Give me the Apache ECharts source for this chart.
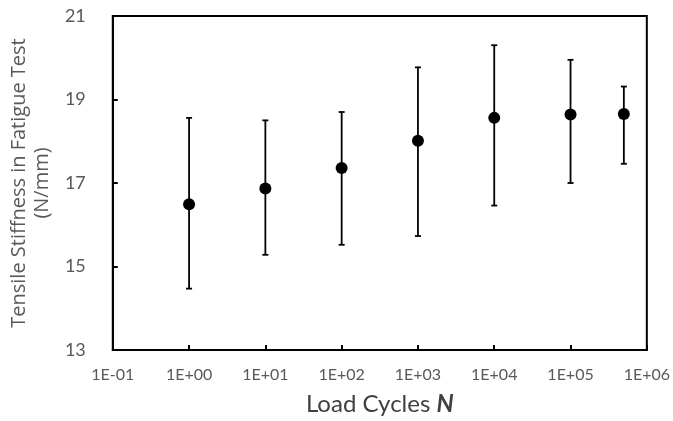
<!DOCTYPE html>
<html><head><meta charset="utf-8">
<script src="https://cdn.jsdelivr.net/npm/echarts@6/dist/echarts.min.js"></script>
<style>html,body{margin:0;padding:0;background:#fff}#c{width:673px;height:421px}</style>
</head><body><div id="c"></div>
<script>
const loadCycles = [1, 10, 100, 1000, 10000, 100000, 500000];
const stiffness = [16.49, 16.87, 17.36, 18.01, 18.56, 18.64, 18.65];
const errLow = [14.47, 15.28, 15.52, 15.73, 16.46, 17.00, 17.46];
const errHigh = [18.56, 18.50, 18.70, 19.77, 20.30, 19.95, 19.31];
const yTicks = [13, 15, 17, 19, 21];

const font = 'Lato, "Open Sans", sans-serif';
const font2 = '"Open Sans", Lato, sans-serif';
const chart = echarts.init(document.getElementById('c'));
function fmtExp(v){
  const e = Math.round(Math.log10(v));
  const s = e < 0 ? '-' : '+';
  const a = Math.abs(e);
  return '1E' + s + (a < 10 ? '0' + a : a);
}
chart.setOption({
  animation: false,
  grid: {left: 111, right: 24, top: 16, bottom: 67, show: true, borderColor: '#000', borderWidth: 2, backgroundColor: 'transparent'},
  xAxis: {
    type: 'log', logBase: 10, min: 0.1, max: 1000000,
    name: 'Load Cycles {b|N}', nameLocation: 'middle', nameGap: 42,
    nameTextStyle: {fontFamily: font, fontSize: 24, color: '#404040', rich: {b: {fontFamily: font, fontSize: 24, fontWeight: 'bold', fontStyle: 'italic', color: '#404040'}}},
    axisLine: {show: true, lineStyle: {color: '#000', width: 2}},
    axisTick: {show: true, inside: true, length: 5, lineStyle: {color: '#000', width: 2}},
    axisLabel: {fontFamily: font, fontSize: 16, color: '#595959', margin: 17, formatter: fmtExp, showMinLabel: true, showMaxLabel: true},
    splitLine: {show: false}, minorTick: {show: false}
  },
  yAxis: {
    type: 'value', min: yTicks[0], max: yTicks[yTicks.length-1], interval: 2,
    name: 'Tensile Stiffness in Fatigue Test\n(N/mm)', nameLocation: 'middle', nameGap: 57, nameRotate: 90,
    nameTextStyle: {fontFamily: font2, fontSize: 20, color: '#595959', lineHeight: 23},
    axisLine: {show: true, lineStyle: {color: '#000', width: 2}},
    axisTick: {show: true, inside: true, length: 5, lineStyle: {color: '#000', width: 2}},
    axisLabel: {fontFamily: font, fontSize: 18, color: '#595959', margin: 27},
    splitLine: {show: false}
  },
  series: [
    {
      type: 'custom',
      data: loadCycles.map((x, i) => [x, errLow[i], errHigh[i]]),
      renderItem: function(params, api){
        const x = api.value(0);
        const lo = api.coord([x, api.value(1)]);
        const hi = api.coord([x, api.value(2)]);
        const w = 3;
        const st = {stroke: '#000', lineWidth: 1.8};
        return {type: 'group', children: [
          {type: 'line', shape: {x1: lo[0], y1: lo[1], x2: hi[0], y2: hi[1]}, style: st},
          {type: 'line', shape: {x1: lo[0]-w, y1: lo[1], x2: lo[0]+w, y2: lo[1]}, style: st},
          {type: 'line', shape: {x1: hi[0]-w, y1: hi[1], x2: hi[0]+w, y2: hi[1]}, style: st}
        ]};
      },
      z: 2
    },
    {
      type: 'scatter',
      data: loadCycles.map((x, i) => [x, stiffness[i]]),
      symbol: 'circle', symbolSize: 12,
      itemStyle: {color: '#000', opacity: 1},
      z: 3
    }
  ]
});
</script></body></html>
